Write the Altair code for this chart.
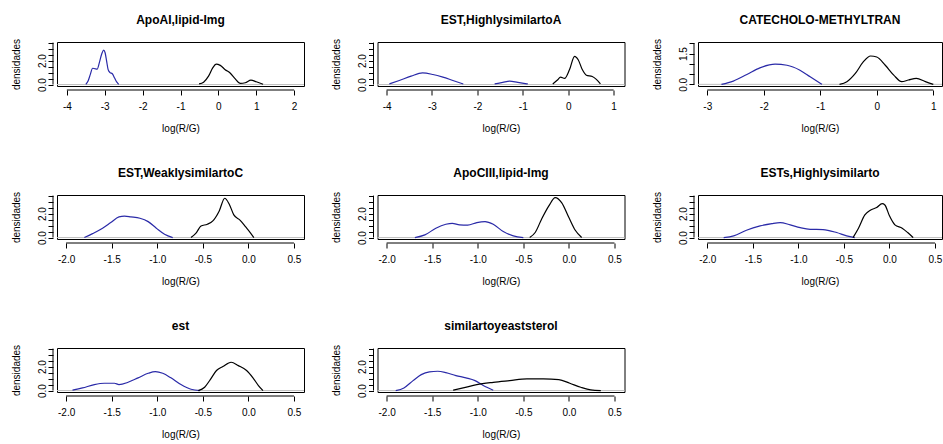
import altair as alt
import pandas as pd

FONT = "Liberation Sans"
BLUE = "#2a2aa8"

TITLES = ["ApoAI,lipid-Img", "EST,HighlysimilartoA", "CATECHOLO-METHYLTRAN",
          "EST,WeaklysimilartoC", "ApoCIII,lipid-Img", "ESTs,Highlysimilarto",
          "est", "similartoyeaststerol"]

X_DOMAINS = [[-4.26, 2.26], [-4.2, 1.24], [-3.165, 1.154],
             [-2.1, 0.61], [-2.1, 0.61], [-2.102, 0.577],
             [-2.1, 0.61], [-2.1, 0.61]]
X_TICKS_1 = [-4, -3, -2, -1, 0, 1, 2]
X_TICKS_2 = [-4, -3, -2, -1, 0, 1]
X_TICKS_3 = [-3, -2, -1, 0, 1]
X_TICKS_R = [-2.0, -1.5, -1.0, -0.5, 0.0, 0.5]
X_TICKS = [X_TICKS_1, X_TICKS_2, X_TICKS_3] + [X_TICKS_R] * 5
X_DECIMALS = [0, 0, 0, 1, 1, 1, 1, 1]

Y_DOMAIN_A = [-0.12, 3.55]
Y_DOMAIN_B = [-0.08, 2.06]
Y_TICKS_A = [0.0, 0.5, 1.0, 1.5, 2.0, 2.5, 3.0, 3.5]
Y_TICKS_B = [0.0, 0.5, 1.0, 1.5, 2.0]
Y_SHOWN_A = [0.0, 2.0]
Y_SHOWN_B = [0.0, 1.5]

# panel 1
P1_BLUE_X = [-3.50, -3.44, -3.38, -3.32, -3.26, -3.20, -3.14, -3.08, -3.03, -2.99, -2.95, -2.91, -2.86, -2.80, -2.74, -2.68, -2.63]
P1_BLUE_Y = [0.02, 0.30, 0.85, 1.36, 1.32, 1.28, 1.85, 2.55, 2.87, 2.65, 1.95, 1.25, 1.00, 0.90, 0.55, 0.20, 0.02]
P1_BLACK_X = [-0.51, -0.39, -0.26, -0.15, -0.06, 0.05, 0.18, 0.31, 0.44, 0.58, 0.71, 0.86, 1.00, 1.18]
P1_BLACK_Y = [0.05, 0.20, 0.70, 1.39, 1.71, 1.60, 1.24, 0.97, 0.50, 0.10, 0.15, 0.37, 0.23, 0.03]
# panel 2
P2_BLUE_A_X = [-3.94, -3.72, -3.46, -3.21, -2.98, -2.76, -2.54, -2.31]
P2_BLUE_A_Y = [0.05, 0.34, 0.70, 0.97, 0.84, 0.62, 0.34, 0.05]
P2_BLUE_B_X = [-1.62, -1.44, -1.29, -1.11, -0.89]
P2_BLUE_B_Y = [0.05, 0.18, 0.29, 0.18, 0.05]
P2_BLACK_X = [-0.34, -0.23, -0.17, -0.08, 0.03, 0.14, 0.22, 0.31, 0.40, 0.53, 0.62, 0.71]
P2_BLACK_Y = [0.05, 0.40, 0.62, 0.51, 1.25, 2.35, 2.07, 1.25, 0.78, 0.67, 0.43, 0.05]
# panel 3
P3_BLUE_X = [-2.75, -2.54, -2.30, -2.07, -1.80, -1.59, -1.36, -1.18, -0.97]
P3_BLUE_Y = [0.0, 0.16, 0.48, 0.80, 0.98, 0.93, 0.69, 0.37, 0.0]
P3_BLACK_X = [-0.66, -0.53, -0.38, -0.24, -0.11, 0.0, 0.15, 0.30, 0.44, 0.56, 0.70, 0.86, 1.0]
P3_BLACK_Y = [0.0, 0.13, 0.53, 1.09, 1.38, 1.33, 0.93, 0.45, 0.13, 0.21, 0.29, 0.13, 0.0]
# panel 4
P4_BLUE_X = [-1.80, -1.71, -1.60, -1.51, -1.42, -1.36, -1.29, -1.19, -1.10, -1.01, -0.92, -0.83]
P4_BLUE_Y = [0.0, 0.33, 0.78, 1.25, 1.72, 1.78, 1.72, 1.61, 1.33, 0.78, 0.28, 0.0]
P4_BLACK_X = [-0.63, -0.57, -0.52, -0.45, -0.39, -0.32, -0.26, -0.21, -0.16, -0.09, -0.03, 0.02, 0.06]
P4_BLACK_Y = [0.0, 0.42, 0.97, 1.11, 1.39, 2.22, 3.28, 2.78, 1.89, 1.44, 0.89, 0.42, 0.0]
# panel 5
P5_BLUE_X = [-1.69, -1.58, -1.46, -1.35, -1.28, -1.20, -1.11, -1.01, -0.92, -0.83, -0.72, -0.61, -0.50]
P5_BLUE_Y = [0.0, 0.22, 0.78, 1.11, 1.19, 1.06, 1.03, 1.25, 1.33, 1.11, 0.50, 0.14, 0.0]
P5_BLACK_X = [-0.43, -0.37, -0.30, -0.22, -0.15, -0.08, 0.0, 0.07, 0.14]
P5_BLACK_Y = [0.0, 0.42, 1.53, 2.64, 3.33, 2.92, 1.67, 0.61, 0.0]
# panel 6
P6_BLUE_X = [-1.82, -1.71, -1.57, -1.42, -1.29, -1.20, -1.09, -0.98, -0.87, -0.73, -0.58, -0.47, -0.38]
P6_BLUE_Y = [0.0, 0.14, 0.61, 0.97, 1.17, 1.25, 1.06, 0.83, 0.69, 0.67, 0.42, 0.14, 0.0]
P6_BLACK_X = [-0.40, -0.34, -0.27, -0.21, -0.14, -0.08, -0.05, 0.0, 0.06, 0.14, 0.20, 0.26]
P6_BLACK_Y = [0.0, 0.78, 1.89, 2.28, 2.50, 2.83, 2.72, 1.81, 1.06, 0.78, 0.42, 0.0]
# panel 7
P7_BLUE_X = [-1.93, -1.82, -1.69, -1.58, -1.47, -1.42, -1.32, -1.21, -1.10, -1.02, -0.94, -0.85, -0.74, -0.63, -0.53]
P7_BLUE_Y = [0.03, 0.22, 0.50, 0.61, 0.61, 0.50, 0.69, 1.06, 1.44, 1.58, 1.44, 1.06, 0.50, 0.11, 0.0]
P7_BLACK_X = [-0.55, -0.48, -0.42, -0.35, -0.28, -0.19, -0.11, -0.02, 0.05, 0.11, 0.16]
P7_BLACK_Y = [0.0, 0.28, 0.89, 1.67, 2.00, 2.36, 2.08, 1.67, 1.06, 0.42, 0.0]
# panel 8
P8_BLUE_X = [-1.90, -1.81, -1.71, -1.62, -1.53, -1.44, -1.35, -1.24, -1.13, -1.03, -0.94, -0.83]
P8_BLUE_Y = [0.0, 0.22, 0.83, 1.33, 1.56, 1.61, 1.50, 1.25, 1.06, 0.83, 0.42, 0.03]
P8_BLACK_X = [-1.27, -1.16, -1.01, -0.83, -0.65, -0.46, -0.28, -0.11, 0.01, 0.13, 0.24, 0.35]
P8_BLACK_Y = [0.03, 0.22, 0.50, 0.69, 0.83, 0.97, 0.97, 0.92, 0.61, 0.28, 0.06, 0.0]

CURVES = [
    [("blue", P1_BLUE_X, P1_BLUE_Y), ("black", P1_BLACK_X, P1_BLACK_Y)],
    [("blue", P2_BLUE_A_X, P2_BLUE_A_Y), ("blue", P2_BLUE_B_X, P2_BLUE_B_Y), ("black", P2_BLACK_X, P2_BLACK_Y)],
    [("blue", P3_BLUE_X, P3_BLUE_Y), ("black", P3_BLACK_X, P3_BLACK_Y)],
    [("blue", P4_BLUE_X, P4_BLUE_Y), ("black", P4_BLACK_X, P4_BLACK_Y)],
    [("blue", P5_BLUE_X, P5_BLUE_Y), ("black", P5_BLACK_X, P5_BLACK_Y)],
    [("blue", P6_BLUE_X, P6_BLUE_Y), ("black", P6_BLACK_X, P6_BLACK_Y)],
    [("blue", P7_BLUE_X, P7_BLUE_Y), ("black", P7_BLACK_X, P7_BLACK_Y)],
    [("blue", P8_BLUE_X, P8_BLUE_Y), ("black", P8_BLACK_X, P8_BLACK_Y)],
]

H = 44
WIDTHS = [247, 247, 244]


def panel(i):
    W = WIDTHS[i % 3]
    rows = []
    for s, (col, xs, ys) in enumerate(CURVES[i]):
        for x, y in zip(xs, ys):
            rows.append({"x": x, "y": y, "col": col, "seg": s})
    df = pd.DataFrame(rows)
    if i == 2:
        ydom, yt, yshown = Y_DOMAIN_B, Y_TICKS_B, Y_SHOWN_B
    else:
        ydom, yt, yshown = Y_DOMAIN_A, Y_TICKS_A, Y_SHOWN_A
    xt = X_TICKS[i]
    dec = X_DECIMALS[i]
    xscale = alt.Scale(domain=X_DOMAINS[i], nice=False, zero=False)
    yscale = alt.Scale(domain=ydom, nice=False, zero=False)
    shown_expr = " || ".join(f"datum.value == {v}" for v in yshown)
    xaxis = alt.Axis(
        values=xt, offset=4, domain=False, grid=False, ticks=True,
        tickSize=5, tickColor="black", tickWidth=1,
        labelFont=FONT, labelFontSize=10, labelColor="black",
        labelBaseline="alphabetic", labelPadding=14, labelOverlap=False,
        labelFlush=False,
        labelExpr=f"(datum.value < 0 ? '-' : '') + format(abs(datum.value), '.{dec}f')",
        title="log(R/G)", titleFont=FONT, titleFontSize=10, titleFontWeight="normal",
        titleColor="black", titleBaseline="alphabetic", titleY=41, titleX=W / 2,
        titleAlign="center",
    )
    yaxis = alt.Axis(
        values=yt, offset=4, domain=False, grid=False, ticks=True,
        tickSize=5, tickColor="black", tickWidth=1,
        labelFont=FONT, labelFontSize=10, labelColor="black",
        labelAngle=270, labelAlign="center", labelBaseline="alphabetic",
        labelPadding=3, labelOverlap=False, labelFlush=False,
        labelExpr=f"({shown_expr}) ? format(datum.value, '.1f') : ''",
        title="densidades", titleFont=FONT, titleFontSize=10, titleFontWeight="normal",
        titleColor="black", titleAngle=270, titleAlign="center",
        titleBaseline="alphabetic", titleX=-33.7, titleY=H / 2,
    )
    zero = alt.Chart(pd.DataFrame({"y": [0.0]})).mark_rule(
        color="#bebebe", strokeWidth=1
    ).encode(y=alt.Y("y:Q", scale=yscale, axis=yaxis))
    lines = alt.Chart(df).mark_line(interpolate="monotone", strokeWidth=1.2).encode(
        x=alt.X("x:Q", scale=xscale, axis=xaxis),
        y=alt.Y("y:Q", scale=yscale, axis=yaxis),
        color=alt.Color("col:N", scale=alt.Scale(domain=["blue", "black"], range=[BLUE, "#000000"]), legend=None),
        detail="seg:N",
    )
    xline = alt.Chart(pd.DataFrame({"x": [min(xt)], "x2": [max(xt)]})).mark_rule(
        color="black", strokeWidth=1
    ).encode(x=alt.X("x:Q", scale=xscale, axis=xaxis), x2="x2:Q", y=alt.value(H + 4))
    yline = alt.Chart(pd.DataFrame({"y": [min(yt)], "y2": [max(yt)]})).mark_rule(
        color="black", strokeWidth=1
    ).encode(y=alt.Y("y:Q", scale=yscale, axis=yaxis), y2="y2:Q", x=alt.value(-4))
    return alt.layer(zero, lines, xline, yline).properties(
        width=W, height=H,
        title=alt.TitleParams(
            text=TITLES[i], font=FONT, fontSize=12, fontWeight="bold", color="black",
            anchor="middle", frame="group", baseline="alphabetic", offset=2,
        ),
    )


chart = alt.concat(
    *[panel(i) for i in range(8)], columns=3,
    spacing={"row": 109, "column": 73.5}, bounds="flush",
).properties(
    padding={"left": 10, "top": 13, "right": 0, "bottom": 0},
).configure_view(
    stroke="black", strokeWidth=1
)

chart.save("out.html", embed_options={"renderer": "svg", "actions": False})
